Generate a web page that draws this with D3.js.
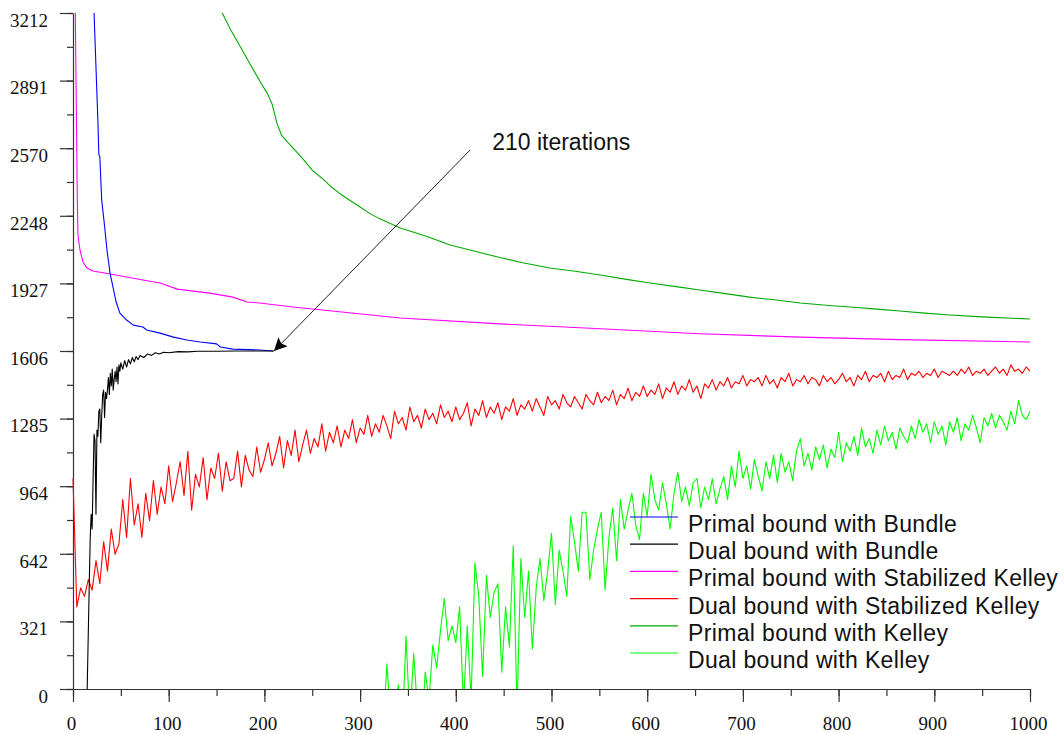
<!DOCTYPE html>
<html>
<head>
<meta charset="utf-8">
<script src="https://cdn.jsdelivr.net/npm/d3@7"></script>
<style>
  body { margin: 0; background: #fff; }
  svg { display: block; }
</style>
</head>
<body>
<div id="chart"></div>
<script>
// Primal bound with Bundle (iteration, value)
const bundlePrimalX = [21, 22, 26, 27, 28, 30, 33, 35.5, 38.7, 41.8, 45, 49, 56, 63, 73, 77, 91, 105, 119, 133, 150, 154, 167, 195, 209];
const bundlePrimal = [3300, 3212, 2700, 2540, 2530, 2323, 2200, 2086, 1976, 1910, 1840, 1786, 1753, 1729, 1720, 1706, 1691, 1672, 1658, 1649, 1640, 1625, 1615, 1611, 1606];

// Dual bound with Bundle
const bundleDualX = [14, 15, 17, 18, 19, 20, 21, 22, 23, 24, 25, 26, 27, 28, 29, 30, 31, 32, 33, 34, 35, 36, 37, 38, 39, 40, 41, 42, 43, 44, 45, 46, 47, 48, 49, 50, 52, 54, 56, 58, 60, 62, 64, 66, 68, 70, 74, 78, 82, 86, 90, 95, 100, 110, 120, 130, 150, 170, 190, 210];
const bundleDual = [-250, 40, 500, 720, 830, 760, 1000, 1210, 1180, 830, 1230, 1200, 1320, 1330, 1170, 1300, 1400, 1420, 1290, 1410, 1380, 1420, 1480, 1400, 1500, 1440, 1520, 1420, 1470, 1510, 1460, 1530, 1450, 1540, 1510, 1550, 1520, 1560, 1530, 1565, 1545, 1575, 1555, 1580, 1565, 1585, 1575, 1592, 1585, 1598, 1592, 1600, 1598, 1603, 1602, 1605, 1605, 1606, 1606, 1606];

// Primal bound with Stabilized Kelley
const stabPrimalX = [1.5, 2.4, 4.5, 5.2, 7.3, 10.4, 14.6, 21, 39, 73, 91, 109, 143, 167, 182, 195, 230, 342, 446, 551, 655, 760, 864, 1000];
const stabPrimal = [3400, 3212, 2323, 2157, 2086, 2029, 2000, 1986, 1972, 1943, 1929, 1900, 1881, 1862, 1839, 1834, 1815, 1763, 1735, 1712, 1688, 1672, 1660, 1649];

// Dual bound with Stabilized Kelley, one value every 4 iterations from 0
const stabDualStep = 4;
const stabDual = [
  1000, 390, 480, 440, 520, 470, 610, 500, 700, 560,
  760, 640, 690, 900, 720, 1000, 780, 880, 720, 930,
  800, 990, 830, 960, 880, 1060, 890, 980, 1080, 920,
  1130, 850, 1020, 960, 1100, 900, 1050, 1000, 1120, 940,
  1080, 990, 1000, 1130, 960, 1110, 1040, 1010, 1150, 1030,
  1090, 1170, 1060, 1120, 1200, 1050, 1180, 1110, 1230, 1080,
  1160, 1230, 1120, 1190, 1150, 1260, 1130, 1220, 1170, 1250,
  1150, 1230, 1190, 1280, 1170, 1240, 1210, 1300, 1200, 1260,
  1220, 1300, 1250, 1190, 1320, 1260, 1290, 1230, 1340, 1270,
  1300, 1240, 1330, 1280, 1310, 1260, 1350, 1290, 1320, 1270,
  1340, 1280, 1310, 1360, 1250, 1330, 1300, 1370, 1290, 1340,
  1310, 1360, 1280, 1340, 1320, 1380, 1300, 1350, 1330, 1370,
  1320, 1380, 1340, 1300, 1390, 1350, 1370, 1330, 1400, 1360,
  1340, 1390, 1360, 1330, 1400, 1370, 1350, 1410, 1360, 1390,
  1370, 1420, 1350, 1400, 1380, 1430, 1370, 1410, 1390, 1440,
  1390, 1420, 1400, 1450, 1380, 1430, 1410, 1460, 1400, 1440,
  1420, 1470, 1410, 1440, 1380, 1450, 1430, 1470, 1420, 1460,
  1440, 1480, 1430, 1460, 1450, 1490, 1440, 1470, 1460, 1480,
  1440, 1490, 1450, 1470, 1430, 1480, 1460, 1500, 1440, 1470,
  1460, 1490, 1450, 1480, 1470, 1440, 1490, 1460, 1480, 1450,
  1470, 1500, 1460, 1480, 1440, 1490, 1470, 1510, 1460, 1490,
  1480, 1500, 1460, 1510, 1470, 1490, 1480, 1520, 1470, 1500,
  1490, 1510, 1480, 1500, 1490, 1520, 1480, 1510, 1500, 1490,
  1510, 1490, 1520, 1500, 1530, 1490, 1510, 1500, 1520, 1490,
  1510, 1530, 1500, 1520, 1490, 1540, 1510, 1520, 1500, 1530,
  1510
];

// Primal bound with Kelley
const kelleyPrimalX = [150, 156, 165, 175, 185, 195, 203, 208, 213, 218, 224, 230, 240, 250, 262, 270, 280, 290, 300, 310, 320, 342, 370, 394, 420, 446, 470, 498, 525, 551, 580, 603, 630, 655, 680, 707, 735, 760, 790, 812, 840, 864, 890, 916, 950, 1000];
const kelleyPrimal = [3290, 3212, 3130, 3050, 2970, 2890, 2830, 2780, 2690, 2630, 2600, 2570, 2520, 2465, 2420, 2385, 2350, 2320, 2290, 2260, 2235, 2190, 2150, 2110, 2080, 2050, 2025, 2000, 1985, 1967, 1945, 1929, 1912, 1896, 1880, 1862, 1848, 1834, 1822, 1815, 1805, 1796, 1786, 1777, 1768, 1758];

// Dual bound with Kelley, one value every 4 iterations from 324
const kelleyDualStart = 324;
const kelleyDualStep = 4;
const kelleyDual = [
  -200, 120, -150, -100, 20, -200, 250, -150, 170, -100,
  -250, 80, -50, 210, 100, 280, 430, 230, 300, 220,
  390, -80, 300, -50, 600, 440, 60, 540, 340, 460,
  500, 80, 390, 200, 680, -100, 620, 340, 560, 190,
  480, 620, 420, 560, 740, 400, 660, 560, 440, 820,
  700, 560, 840, 840, 520, 660, 760, 840, 470, 720,
  860, 610, 900, 760, 850, 930, 780, 710, 930, 820,
  1020, 900, 850, 980, 880, 760, 930, 1030, 890, 960,
  870, 980, 1000, 860, 960, 900, 1000, 880, 950, 1010,
  900, 1060, 960, 1130, 1000, 1060, 950, 1090, 1010, 940,
  1080, 1000, 1110, 980, 1120, 1030, 1080, 990, 1130, 1190,
  1060, 1120, 1040, 1150, 1090, 1160, 1050, 1140, 1100, 1220,
  1080, 1170, 1130, 1200, 1110, 1240, 1150, 1190, 1120, 1230,
  1160, 1250, 1180, 1220, 1140, 1240, 1200, 1170, 1250, 1190,
  1280, 1220, 1260, 1170, 1270, 1210, 1250, 1160, 1270, 1220,
  1290, 1180, 1260, 1230, 1300, 1240, 1170, 1290, 1250, 1310,
  1240, 1300, 1270, 1230, 1320, 1260, 1370, 1300, 1280, 1320
];

const yTickValues = [0, 321.2, 642.4, 963.6, 1284.8, 1606, 1927.2, 2248.4, 2569.6, 2890.8, 3212];
const yTickLabels = ["0", "321", "642", "964", "1285", "1606", "1927", "2248", "2570", "2891", "3212"];
const xTickValues = [0, 100, 200, 300, 400, 500, 600, 700, 800, 900, 1000];

const seriesNames = [
  "Primal bound with Bundle",
  "Dual bound with Bundle",
  "Primal bound with Stabilized Kelley",
  "Dual bound with Stabilized Kelley",
  "Primal bound with Kelley",
  "Dual bound with Kelley"
];
const seriesColors = ["#0000ff", "#000000", "#ff00ff", "#ff0000", "#00aa00", "#00ff00"];

// annotation: convergence point and label anchor
const annotPoint = [210, 1606];
const annotTail = [415, 2561];
const annotText = "210 iterations";

// Build point lists
const series = [
  bundlePrimalX.map((x, i) => [x, bundlePrimal[i]]),
  bundleDualX.map((x, i) => [x, bundleDual[i]]),
  stabPrimalX.map((x, i) => [x, stabPrimal[i]]),
  stabDual.map((v, i) => [i * stabDualStep, v]),
  kelleyPrimalX.map((x, i) => [x, kelleyPrimal[i]]),
  kelleyDual.map((v, i) => [kelleyDualStart + i * kelleyDualStep, v])
];

const width = 1064, height = 734;
const margin = { left: 73, right: 1030, top: 13, bottom: 689 };

const svg = d3.select("#chart").append("svg")
  .attr("width", width)
  .attr("height", height);

const x = d3.scaleLinear().domain([0, 1000]).range([margin.left, margin.right]);
const y = d3.scaleLinear().domain([0, 3212]).range([margin.bottom, margin.top]);

svg.append("defs").append("clipPath")
  .attr("id", "plot-clip")
  .append("rect")
  .attr("x", margin.left - 1)
  .attr("y", margin.top)
  .attr("width", margin.right - margin.left + 2)
  .attr("height", margin.bottom - margin.top);

// Minor ticks (no labels)
const yMinor = d3.range(0, 21).map(i => i * 160.6);
const xMinor = d3.range(0, 21).map(i => i * 50);

svg.append("g")
  .attr("transform", "translate(" + margin.left + ",0)")
  .call(d3.axisLeft(y).tickValues(yMinor).tickSize(6).tickSizeOuter(0).tickFormat(""))
  .call(g => g.selectAll("line,path").attr("stroke", "#333").attr("stroke-width", 1.2));

svg.append("g")
  .attr("transform", "translate(0," + margin.bottom + ")")
  .call(d3.axisBottom(x).tickValues(xMinor).tickSize(7).tickSizeOuter(0).tickFormat(""))
  .call(g => g.selectAll("line,path").attr("stroke", "#333").attr("stroke-width", 1.2));

// Major y axis
svg.append("g")
  .attr("transform", "translate(" + margin.left + ",0)")
  .call(d3.axisLeft(y).tickValues(yTickValues).tickSize(13).tickSizeOuter(0)
    .tickFormat((d, i) => yTickLabels[i]))
  .call(g => g.select(".domain").remove())
  .call(g => g.selectAll("line").attr("stroke", "#333").attr("stroke-width", 1.2))
  .call(g => g.selectAll("text")
    .attr("x", -25)
    .attr("dy", "0.7em")
    .attr("fill", "#111")
    .style("font-family", "'Liberation Serif', 'Times New Roman', serif")
    .style("font-size", "19px"));

// Major x axis
svg.append("g")
  .attr("transform", "translate(0," + margin.bottom + ")")
  .call(d3.axisBottom(x).tickValues(xTickValues).tickSize(13).tickSizeOuter(0)
    .tickFormat(d3.format("d")))
  .call(g => g.select(".domain").remove())
  .call(g => g.selectAll("line").attr("stroke", "#333").attr("stroke-width", 1.2))
  .call(g => g.selectAll("text")
    .attr("x", -2)
    .attr("y", 41)
    .attr("dy", 0)
    .attr("fill", "#111")
    .style("font-family", "'Liberation Serif', 'Times New Roman', serif")
    .style("font-size", "19px"));

// Series lines
const line = d3.line()
  .x(d => x(d[0]))
  .y(d => y(d[1]));

const plot = svg.append("g").attr("clip-path", "url(#plot-clip)");

// draw in back-to-front order similar to the reference
const order = [5, 4, 3, 2, 0, 1];
order.forEach(k => {
  plot.append("path")
    .datum(series[k])
    .attr("fill", "none")
    .attr("stroke", seriesColors[k])
    .attr("stroke-width", 1.1)
    .attr("stroke-linejoin", "round")
    .attr("d", line);
});

// Annotation arrow
svg.append("defs").append("marker")
  .attr("id", "arrow")
  .attr("viewBox", "0 0 10 10")
  .attr("refX", 10)
  .attr("refY", 5)
  .attr("markerWidth", 19)
  .attr("markerHeight", 13)
  .attr("markerUnits", "userSpaceOnUse")
  .attr("orient", "auto")
  .append("path")
  .attr("d", "M0,0 L10,5 L0,10 L2,5 Z")
  .attr("fill", "#000");

svg.append("line")
  .attr("x1", x(annotTail[0]))
  .attr("y1", y(annotTail[1]))
  .attr("x2", x(annotPoint[0]))
  .attr("y2", y(annotPoint[1]))
  .attr("stroke", "#222")
  .attr("stroke-width", 1)
  .attr("marker-end", "url(#arrow)");

svg.append("text")
  .attr("x", x(annotTail[0]) + 22)
  .attr("y", y(annotTail[1]))
  .attr("fill", "#111")
  .style("font-family", "'Liberation Sans', Arial, Helvetica, sans-serif")
  .style("font-size", "23px")
  .text(annotText);

// Legend
const legend = svg.append("g").attr("transform", "translate(630,517)");
const rowH = 27.2;

seriesNames.forEach((name, i) => {
  const row = legend.append("g").attr("transform", "translate(0," + (i * rowH) + ")");
  row.append("line")
    .attr("x1", 0).attr("x2", 48)
    .attr("y1", 0).attr("y2", 0)
    .attr("stroke", seriesColors[i])
    .attr("stroke-width", 1.2);
  row.append("text")
    .attr("x", 58)
    .attr("y", 15)
    .attr("fill", "#111")
    .style("font-family", "'Liberation Sans', Arial, Helvetica, sans-serif")
    .style("font-size", "23px")
    .style("letter-spacing", "0.35px")
    .text(name);
});
</script>
</body>
</html>
